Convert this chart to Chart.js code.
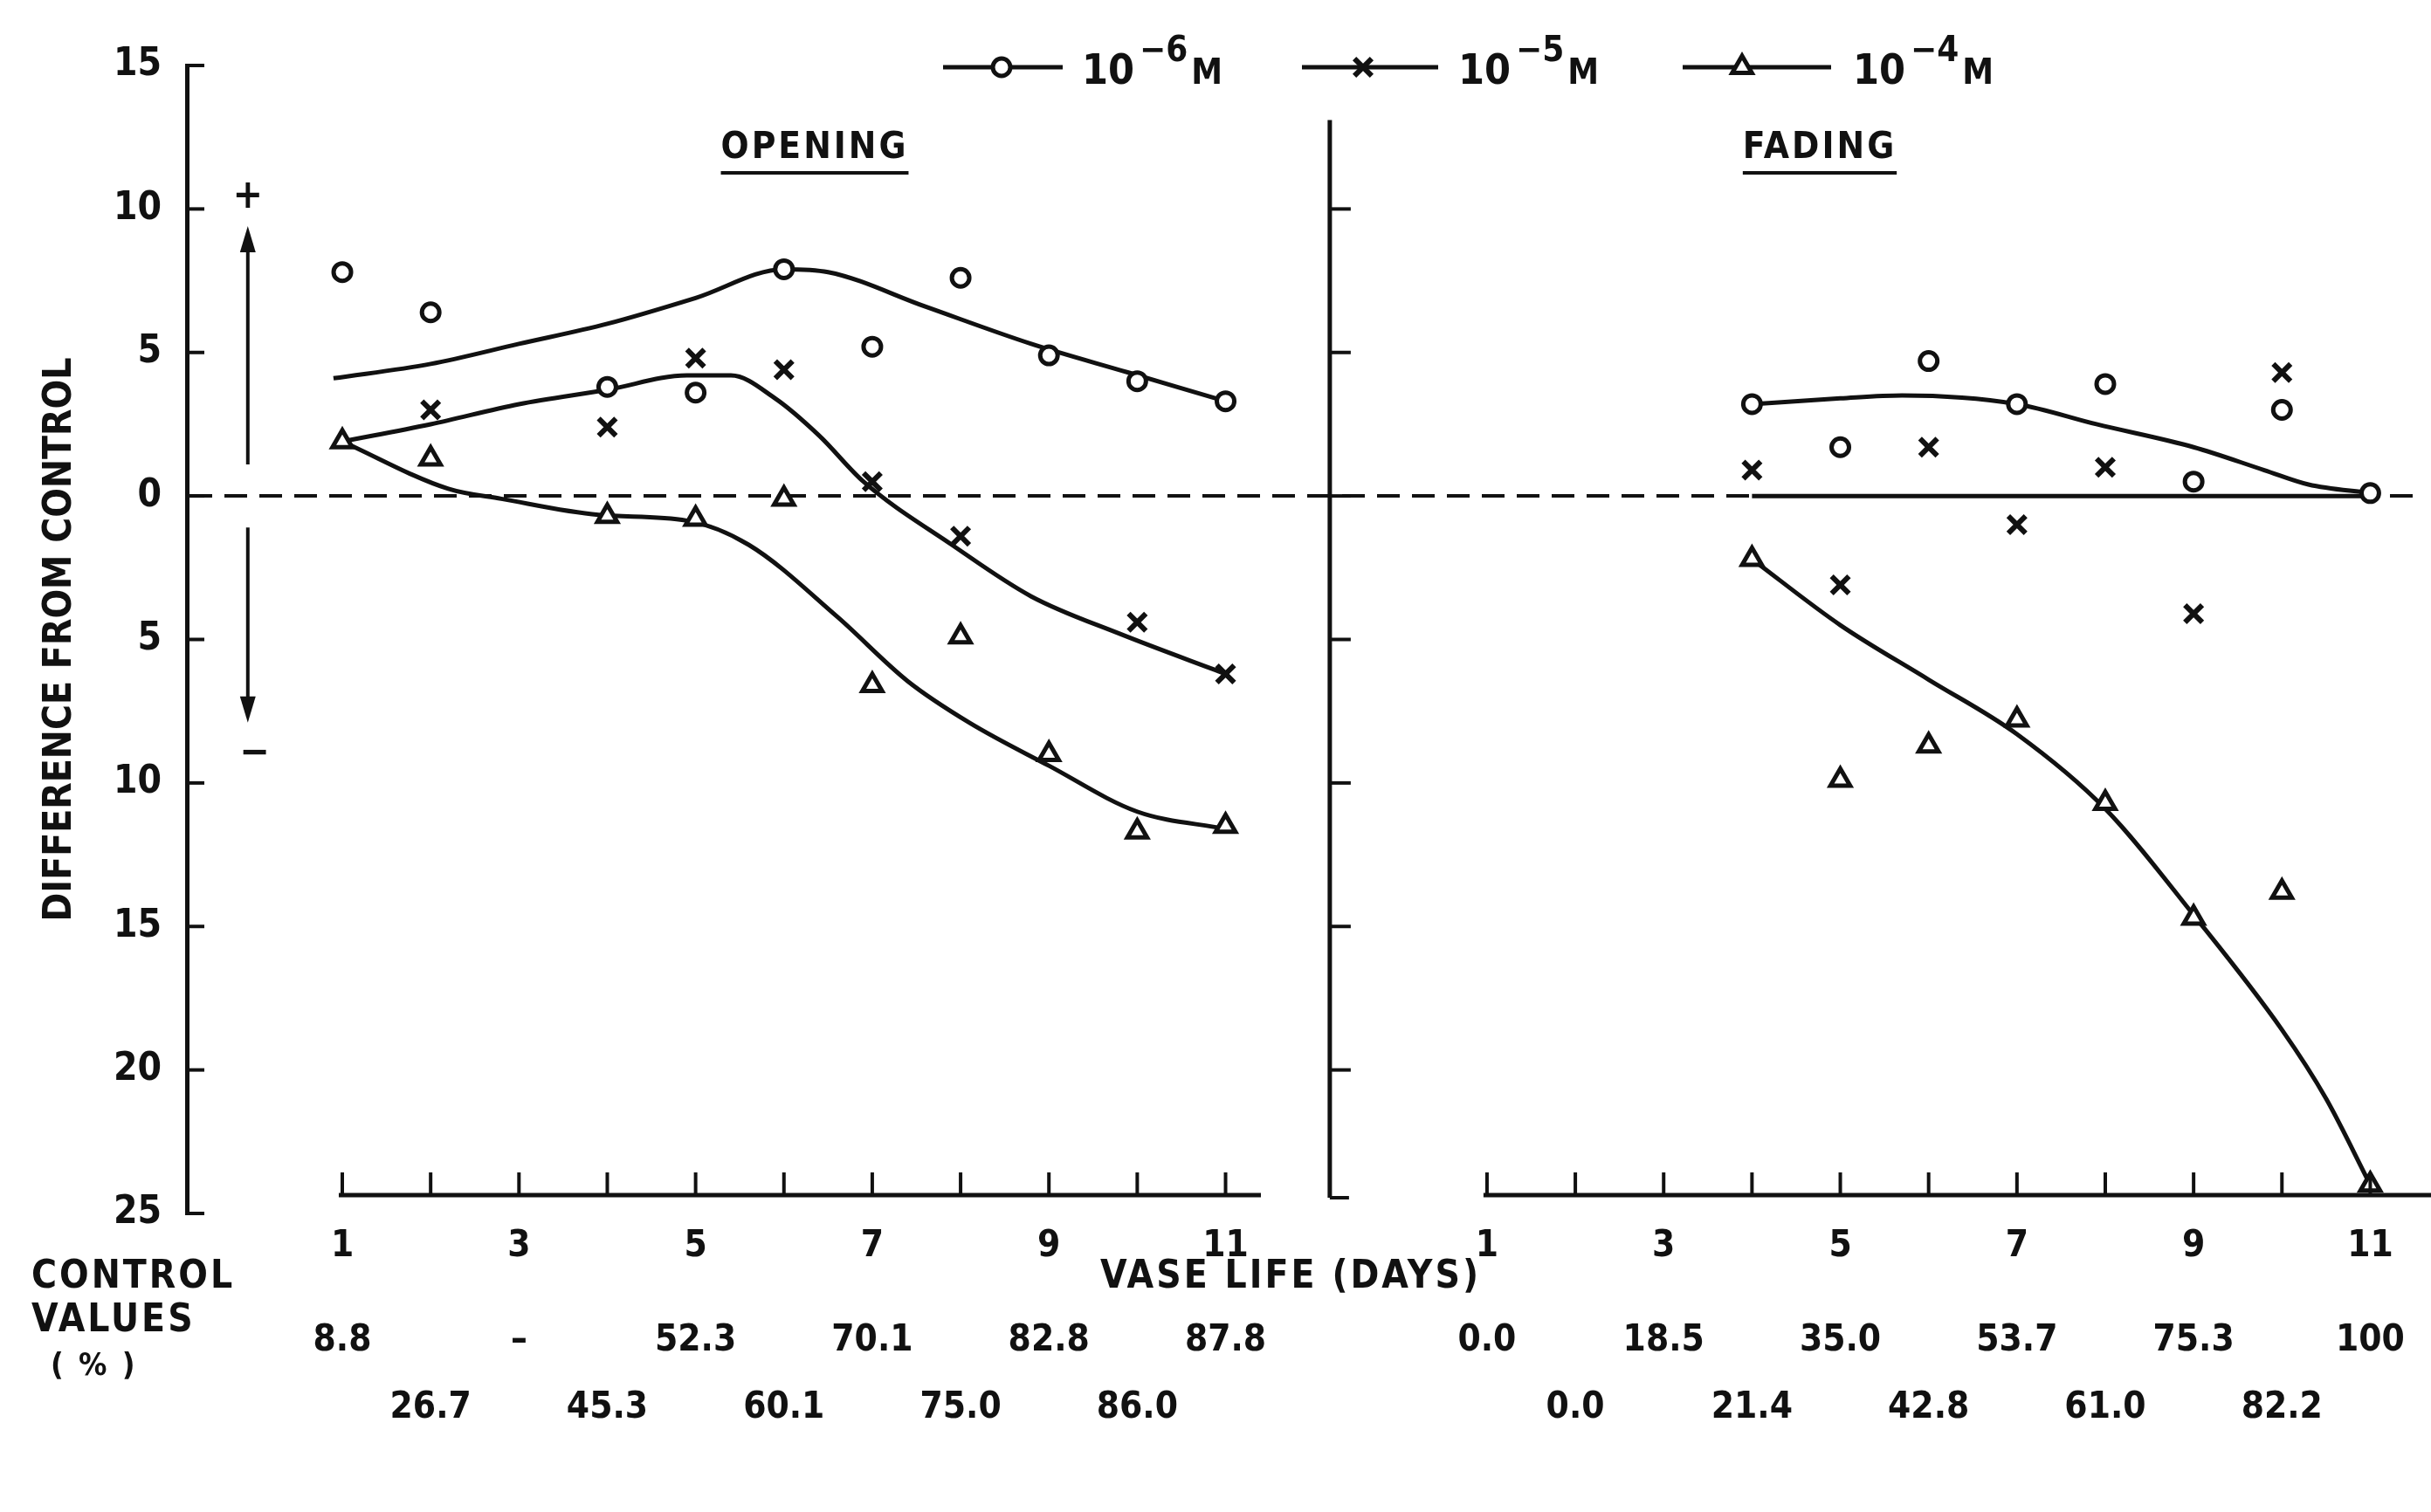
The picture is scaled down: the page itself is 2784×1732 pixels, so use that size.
<!DOCTYPE html>
<html lang="en">
<head>
<meta charset="utf-8">
<title>Difference from control - opening and fading</title>
<script src="https://cdn.jsdelivr.net/npm/chart.js"></script>
<style>
  html, body { margin: 0; padding: 0; background: #fff; }
  .box { position: relative; width: 2784px; height: 1732px; }
</style>
</head>
<body>
<div class="box"><canvas id="plot"></canvas></div>
<script>
const INK = '#111';
const FONT = "'DejaVu Sans Condensed', 'DejaVu Sans', sans-serif";

// vase life, days
const days = [1, 2, 3, 4, 5, 6, 7, 8, 9, 10, 11];
const valueTicks = [15, 10, 5, 0, -5, -10, -15, -20, -25];
const seriesNames = ['10⁻⁶M', '10⁻⁵M', '10⁻⁴M'];
const exponents = ['−6', '−5', '−4'];

// OPENING - measured points
const openDays6 = [1, 2, 4, 5, 6, 7, 8, 9, 10, 11];
const open6 = [7.8, 6.4, 3.8, 3.6, 7.9, 5.2, 7.6, 4.9, 4.0, 3.3];
const openDays5 = [2, 4, 5, 6, 7, 8, 10, 11];
const open5 = [3.0, 2.4, 4.8, 4.4, 0.5, -1.4, -4.4, -6.2];
const openDays4 = [1, 2, 4, 5, 6, 7, 8, 9, 10, 11];
const open4 = [1.9, 1.3, -0.7, -0.8, -0.1, -6.6, -4.9, -9.0, -11.7, -11.5];

// OPENING - hand drawn curves
const openFitDays6 = [0.9, 2, 3, 4, 5, 6, 6.5, 7.6, 8.8, 9.9, 11];
const openFit6 = [4.1, 4.6, 5.3, 6.0, 6.9, 7.9, 7.8, 6.6, 5.3, 4.3, 3.3];
const openFitDays5 = [1, 2, 3, 4, 4.9, 5.4, 5.9, 6.4, 6.9, 7.9, 8.8, 9.8, 11];
const openFit5 = [1.9, 2.5, 3.2, 3.7, 4.2, 4.2, 3.4, 2.1, 0.5, -1.7, -3.5, -4.8, -6.2];
const openFitDays4 = [1, 2.2, 2.8, 3.9, 4.9, 5.6, 6.6, 7.4, 8.1, 9, 10, 11];
const openFit4 = [1.9, 0.25, -0.1, -0.66, -0.86, -1.7, -4.2, -6.45, -7.9, -9.4, -11.0, -11.6];

// FADING - measured points
const fadeDays6 = [4, 5, 6, 7, 8, 9, 10, 11];
const fade6 = [3.2, 1.7, 4.7, 3.2, 3.9, 0.5, 3.0, 0.1];
const fadeDays5 = [4, 5, 6, 7, 8, 9, 10];
const fade5 = [0.9, -3.1, 1.7, -1.0, 1.0, -4.1, 4.3];
const fadeDays4 = [4, 5, 6, 7, 8, 9, 10, 11];
const fade4 = [-2.2, -9.9, -8.7, -7.8, -10.7, -14.7, -13.8, -24.0];

// FADING - hand drawn curves
const fadeFitDays6 = [4, 5, 5.7, 7, 7.9, 9, 9.8, 10.3, 11];
const fadeFit6 = [3.2, 3.4, 3.5, 3.2, 2.5, 1.7, 0.9, 0.4, 0.1];
const fadeFitDays5 = [4, 11];
const fadeFit5 = [0, 0];
const fadeFitDays4 = [4, 5, 6, 7, 8, 9, 10, 10.5, 11];
const fadeFit4 = [-2.2, -4.5, -6.4, -8.3, -10.9, -14.6, -18.6, -21.0, -24.0];

// control values (%), one per day
const controlOpening = [8.8, 26.7, null, 45.3, 52.3, 60.1, 70.1, 75.0, 82.8, 86.0, 87.8];
const controlFading = [0.0, 0.0, 18.5, 21.4, 35.0, 42.8, 53.7, 61.0, 75.3, 82.2, 100];

const shapes = [
  { pointStyle: 'circle', r: 10, w: 5 },
  { pointStyle: 'crossRot', r: 14, w: 6 },
  { pointStyle: 'triangle', r: 13, w: 5 }
];

function pts(xs, ys) {
  return xs.map((d, i) => ({ x: d, y: ys[i] }));
}

function marks(k, xs, ys, axis) {
  const s = shapes[k];
  return {
    label: seriesNames[k], data: pts(xs, ys), xAxisID: axis, yAxisID: 'y',
    showLine: false, order: 1,
    pointStyle: s.pointStyle, pointRadius: s.r, pointBorderWidth: s.w,
    pointBackgroundColor: '#fff', pointBorderColor: INK
  };
}

function curve(k, xs, ys, axis) {
  return {
    label: seriesNames[k] + ' fit', data: pts(xs, ys), xAxisID: axis, yAxisID: 'y',
    showLine: true, order: 2, fill: false,
    borderColor: INK, borderWidth: 5, pointRadius: 0,
    cubicInterpolationMode: 'monotone'
  };
}

const fmt = v => v == null ? '–' : (v >= 100 ? String(v) : v.toFixed(1));
const controlLabel = vals => v => {
  const i = days.indexOf(v);
  if (i < 0) return '';
  const s = fmt(vals[i]);
  return v % 2 ? [s, ''] : ['', s];
};
const setDayTicks = scale => { scale.ticks = days.map(v => ({ value: v })); };
const fixHeight = h => s => { s.height = h; s.paddingLeft = 0; s.paddingRight = 0; };

const tickFont = { family: FONT, size: 42, weight: 'bold' };

function dayAxis(stackName, weight, min, max, extra) {
  return Object.assign({
    type: 'linear', position: 'bottom', stack: stackName, stackWeight: weight,
    min: min, max: max, afterBuildTicks: setDayTicks,
    grid: { display: false }, border: { display: false }
  }, extra);
}

// axis lines, ticks that point inwards, arrows, titles, legend
const decor = {
  id: 'decor',
  afterDraw(chart) {
    const { ctx, chartArea: area } = chart;
    const { x, x2, y } = chart.scales;
    const seg = (ax, ay, bx, by) => { ctx.beginPath(); ctx.moveTo(ax, ay); ctx.lineTo(bx, by); ctx.stroke(); };
    ctx.save();
    ctx.strokeStyle = INK;
    ctx.fillStyle = INK;

    // left value axis, short ticks
    ctx.lineWidth = 4;
    y.ticks.forEach(t => {
      const py = y.getPixelForValue(t.value);
      seg(y.right, py, y.right + 20, py);
    });

    // value axis of the FADING panel
    const xr = x2.left;
    const rb = area.bottom - 18;
    ctx.lineWidth = 5;
    seg(xr, y.getPixelForValue(13.1), xr, rb);
    ctx.lineWidth = 4;
    y.ticks.filter(t => t.value <= 10 && t.value > -25).forEach(t => {
      const py = y.getPixelForValue(t.value);
      seg(xr, py, xr + 24, py);
    });
    seg(xr, rb, xr + 22, rb);

    // day axes with upward ticks
    const by = area.bottom - 21;
    ctx.lineWidth = 5;
    seg(x.getPixelForValue(0.96), by, x.getPixelForValue(11.4), by);
    seg(x2.getPixelForValue(0.96), by, chart.width, by);
    ctx.lineWidth = 4;
    [x, x2].forEach(s => s.ticks.forEach(t => {
      const px = s.getPixelForValue(t.value);
      seg(px, by, px, by - 26);
    }));

    // + / - arrows beside the axis
    const ax = x.getPixelForValue(-0.07);
    const head = (py, dir) => {
      ctx.beginPath();
      ctx.moveTo(ax, py);
      ctx.lineTo(ax - 9, py - dir * 30);
      ctx.lineTo(ax + 9, py - dir * 30);
      ctx.closePath();
      ctx.fill();
    };
    ctx.lineWidth = 4;
    seg(ax, y.getPixelForValue(1.1), ax, y.getPixelForValue(8.6));
    head(y.getPixelForValue(9.4), -1);
    seg(ax, y.getPixelForValue(-1.1), ax, y.getPixelForValue(-7.1));
    head(y.getPixelForValue(-7.9), 1);
    ctx.textAlign = 'center';
    ctx.textBaseline = 'middle';
    ctx.font = `bold 46px ${FONT}`;
    ctx.fillText('+', ax, y.getPixelForValue(10.4));
    ctx.fillText('−', ax + 8, y.getPixelForValue(-9.0));

    // panel titles, underlined
    ctx.font = `bold 42px ${FONT}`;
    ctx.letterSpacing = '3px';
    [['OPENING', 933], ['FADING', 2084]].forEach(([txt, cx]) => {
      ctx.fillText(txt, cx, 170);
      const w = ctx.measureText(txt).width;
      ctx.lineWidth = 4;
      seg(cx - w / 2, 198, cx + w / 2, 198);
    });

    // axis caption and control values caption
    ctx.font = `bold 44px ${FONT}`;
    ctx.fillText('VASE LIFE (DAYS)', 1478, 1464);
    ctx.textAlign = 'left';
    ctx.fillText('CONTROL', 36, 1464);
    ctx.fillText('VALUES', 36, 1514);
    ctx.font = `bold 36px ${FONT}`;
    ctx.fillText('( % )', 58, 1566);
    ctx.letterSpacing = '0px';

    // legend
    const legend = [
      { x0: 1080, x1: 1217, mx: 1147, tx: 1239 },
      { x0: 1491, x1: 1647, mx: 1561, tx: 1670 },
      { x0: 1927, x1: 2097, mx: 1995, tx: 2122 }
    ];
    const ly = 77;
    legend.forEach((it, k) => {
      ctx.lineWidth = 5;
      ctx.strokeStyle = INK;
      seg(it.x0, ly, it.x1, ly);
      const s = shapes[k];
      ctx.save();
      ctx.lineWidth = s.w;
      ctx.fillStyle = '#fff';
      Chart.helpers.drawPoint(ctx, { pointStyle: s.pointStyle, radius: s.r, borderWidth: s.w, rotation: 0 }, it.mx, ly);
      ctx.restore();
      ctx.textAlign = 'left';
      ctx.textBaseline = 'alphabetic';
      let tx = it.tx;
      ctx.font = `bold 48px ${FONT}`;
      ctx.fillText('10', tx, 96);
      tx += ctx.measureText('10').width + 6;
      ctx.font = `bold 40px ${FONT}`;
      ctx.fillText(exponents[k], tx, 70);
      tx += ctx.measureText(exponents[k]).width + 4;
      ctx.font = `bold 40px ${FONT}`;
      ctx.fillText('M', tx, 96);
    });

    ctx.restore();
  }
};

window.addEventListener("DOMContentLoaded", () => {
  const ctx = document.getElementById('plot').getContext('2d');
  new Chart(ctx, {
    type: 'scatter',
    data: {
      datasets: [
        marks(0, openDays6, open6, 'x'),
        marks(1, openDays5, open5, 'x'),
        marks(2, openDays4, open4, 'x'),
        marks(0, fadeDays6, fade6, 'x2'),
        marks(1, fadeDays5, fade5, 'x2'),
        marks(2, fadeDays4, fade4, 'x2'),
        curve(0, openFitDays6, openFit6, 'x'),
        curve(1, openFitDays5, openFit5, 'x'),
        curve(2, openFitDays4, openFit4, 'x'),
        curve(0, fadeFitDays6, fadeFit6, 'x2'),
        curve(1, fadeFitDays5, fadeFit5, 'x2'),
        curve(2, fadeFitDays4, fadeFit4, 'x2')
      ]
    },
    options: {
      responsive: true,
      maintainAspectRatio: false,
      animation: false,
      layout: { padding: { top: 75, left: 0, right: 0, bottom: 0 } },
      plugins: { legend: { display: false }, tooltip: { enabled: false } },
      scales: {
        x: dayAxis('days', 12.94, -0.76, 12.18, {
          ticks: { callback: v => v % 2 ? String(v) : '', font: tickFont, color: INK, padding: 5, autoSkip: false, maxRotation: 0 },
          afterFit: fixHeight(60)
        }),
        x2: dayAxis('days', 12.27, -0.78, 11.49, {
          ticks: { callback: v => v % 2 ? String(v) : '', font: tickFont, color: INK, padding: 5, autoSkip: false, maxRotation: 0 },
          afterFit: fixHeight(60)
        }),
        xc: dayAxis('ctrl', 12.94, -0.76, 12.18, {
          ticks: { callback: controlLabel(controlOpening), font: Object.assign({ lineHeight: 1.83 }, tickFont), color: INK, padding: 40, autoSkip: false, maxRotation: 0 },
          afterFit: fixHeight(282)
        }),
        xc2: dayAxis('ctrl', 12.27, -0.78, 11.49, {
          ticks: { callback: controlLabel(controlFading), font: Object.assign({ lineHeight: 1.83 }, tickFont), color: INK, padding: 40, autoSkip: false, maxRotation: 0 },
          afterFit: fixHeight(282)
        }),
        y: {
          type: 'linear', position: 'left', min: -25, max: 15,
          afterBuildTicks: s => { s.ticks = valueTicks.map(v => ({ value: v })); },
          ticks: { callback: v => String(Math.abs(v)), font: { family: FONT, size: 44, weight: 'bold' }, color: INK, padding: 29 },
          grid: {
            drawTicks: false, lineWidth: 4,
            color: c => (c.tick && c.tick.value === 0) ? INK : 'rgba(0,0,0,0)'
          },
          border: { display: true, width: 5, color: INK, dash: [26, 14] },
          title: {
            display: true, text: 'DIFFERENCE FROM CONTROL', color: INK,
            font: { family: FONT, size: 44, weight: 'bold' }, padding: { top: 43, bottom: 0 }
          },
          afterFit: s => { s.width = 214; }
        }
      }
    },
    plugins: [decor]
  });
});
</script>
</body>
</html>
